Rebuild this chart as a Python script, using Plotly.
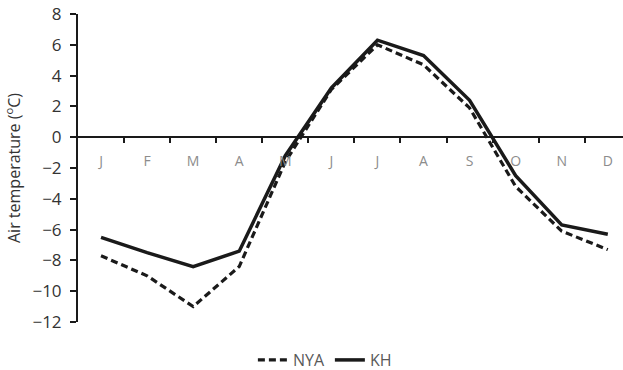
import plotly.graph_objects as go

months = ["J", "F", "M", "A", "M", "J", "J", "A", "S", "O", "N", "D"]
month_index = list(range(12))
nya = [-7.7, -9.0, -11.0, -8.4, -1.6, 3.1, 6.0, 4.7, 1.9, -3.2, -6.1, -7.3]
kh = [-6.5, -7.5, -8.4, -7.4, -1.2, 3.2, 6.3, 5.3, 2.4, -2.5, -5.7, -6.3]
y_ticks = [8, 6, 4, 2, 0, -2, -4, -6, -8, -10, -12]

FONT = "Open Sans"

fig = go.Figure()
fig.add_trace(go.Scatter(x=month_index, y=nya, mode="lines", name="NYA",
                         line=dict(color="#1a1a1a", width=3.2, dash="7px,4px")))
fig.add_trace(go.Scatter(x=month_index, y=kh, mode="lines", name="KH",
                         line=dict(color="#1a1a1a", width=3.5)))

fig.update_layout(
    width=623, height=370,
    margin=dict(l=78, r=0, t=14, b=48, autoexpand=False),
    paper_bgcolor="white", plot_bgcolor="white",
    font=dict(family=FONT, color="#404040"),
    showlegend=True,
    legend=dict(orientation="h", x=0.453, xanchor="center",
                y=0.027, yref="container", yanchor="middle",
                font=dict(size=16, color="#595959"), bgcolor="rgba(0,0,0,0)"),
    xaxis=dict(
        range=[-0.5, 11.33], anchor="free", position=0.6,
        showline=True, linecolor="#1a1a1a", linewidth=2,
        showgrid=False, zeroline=False,
        tickmode="array", tickvals=month_index, ticktext=months, ticks="",
        tickfont=dict(size=14, color="#8c8c8c"), ticklabelstandoff=11,
        minor=dict(tickmode="array", tickvals=[i + 0.5 for i in range(11)],
                   ticks="outside", ticklen=5, tickwidth=2, tickcolor="#1a1a1a"),
    ),
    yaxis=dict(
        range=[-12, 8], tickmode="array", tickvals=y_ticks,
        showline=True, linecolor="#1a1a1a", linewidth=2,
        ticks="outside", ticklen=6, tickwidth=2, tickcolor="#1a1a1a",
        showgrid=False, zeroline=False,
        tickfont=dict(size=17, color="#333333"), ticklabelstandoff=5,
        title=dict(text="Air temperature (<sup>o</sup>C)", font=dict(size=16, color="#333333"), standoff=8),
    ),
)

fig.write_html("out.html")
